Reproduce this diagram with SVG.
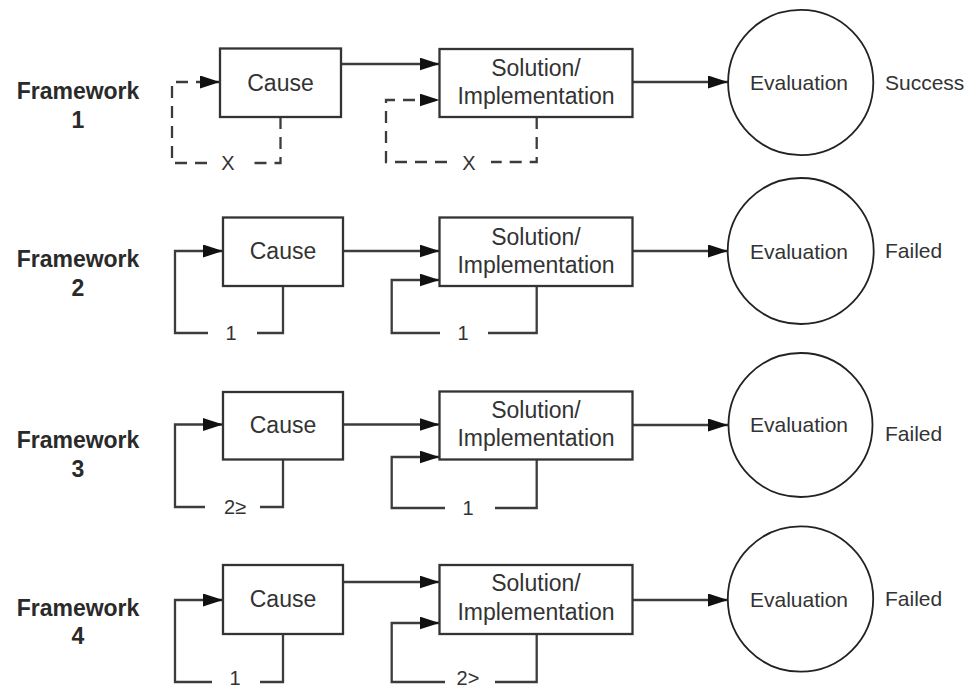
<svg xmlns="http://www.w3.org/2000/svg" width="969" height="690" viewBox="0 0 969 690">
<style>
.box{fill:#fff;stroke:#333;stroke-width:2.3}
.circ{fill:#fff;stroke:#222;stroke-width:1.8}
.ln{fill:none;stroke:#3c3c3c;stroke-width:2.3}
.arr{marker-end:url(#ah)}
.dash{stroke-dasharray:12 8}
.t{font-family:"Liberation Sans",Arial,sans-serif;fill:#333;text-anchor:middle}
.big{font-size:23px}
.mid{font-size:21px}
.sm{font-size:20px}
.fw{font-family:"Liberation Sans",Arial,sans-serif;font-weight:bold;font-size:23px;fill:#2a2a2a;text-anchor:middle}
.out{font-family:"Liberation Sans",Arial,sans-serif;font-size:21px;fill:#333}
</style>
<defs>
<marker id="ah" markerUnits="userSpaceOnUse" markerWidth="21" markerHeight="14" refX="20" refY="6.5" orient="auto">
<path d="M0,0 L20,6.5 L0,13 z" fill="#111"/>
</marker>
</defs>
<rect width="969" height="690" fill="#fff"/>

<g id="labels">
<text class="fw" x="78" y="99">Framework</text><text class="fw" x="78" y="128">1</text>
<text class="fw" x="78" y="267">Framework</text><text class="fw" x="78" y="296">2</text>
<text class="fw" x="78" y="448">Framework</text><text class="fw" x="78" y="477">3</text>
<text class="fw" x="78" y="616">Framework</text><text class="fw" x="78" y="644">4</text>
</g>

<g id="connectors">
<!-- Framework 1 -->
<path class="ln arr" d="M341,64 H439.5"/>
<path class="ln arr" d="M632.5,82 H728"/>
<path class="ln dash" d="M280.5,117 V163 H251"/>
<path class="ln dash arr" d="M207,163 H172 V82 H220"/>
<path class="ln dash" d="M536.7,117 V162 H491"/>
<path class="ln dash arr" d="M447,162 H386 V100 H439.5"/>
<text class="t sm" x="228" y="170">X</text>
<text class="t sm" x="469" y="170">X</text>
<!-- Framework 2 -->
<path class="ln arr" d="M343,251 H439.5"/>
<path class="ln arr" d="M632.5,251 H728"/>
<path class="ln" d="M283,286 V333 H257"/>
<path class="ln arr" d="M208,333 H175 V251 H223"/>
<path class="ln" d="M536.7,286 V333 H488"/>
<path class="ln arr" d="M440,333 H391.7 V280 H439.5"/>
<text class="t sm" x="231" y="340">1</text>
<text class="t sm" x="463" y="340">1</text>
<!-- Framework 3 -->
<path class="ln arr" d="M343,424.5 H439.5"/>
<path class="ln arr" d="M632.5,425 H728"/>
<path class="ln" d="M283,459 V507 H260"/>
<path class="ln arr" d="M205,507 H175 V424.5 H223"/>
<path class="ln" d="M536.7,459 V508 H495"/>
<path class="ln arr" d="M445,508 H391.7 V457 H439.5"/>
<text class="t sm" x="235" y="514">2≥</text>
<text class="t sm" x="468" y="515">1</text>
<!-- Framework 4 -->
<path class="ln arr" d="M343,582 H439.5"/>
<path class="ln arr" d="M632.5,600 H728"/>
<path class="ln" d="M283,634 V682 H260"/>
<path class="ln arr" d="M212,682 H175 V600 H223"/>
<path class="ln" d="M536.7,634 V682 H495"/>
<path class="ln arr" d="M445,682 H391.7 V623 H439.5"/>
<text class="t sm" x="235" y="685">1</text>
<text class="t sm" x="468" y="685">2&gt;</text>
</g>

<g id="cause1"><rect class="box" x="220" y="48.5" width="121" height="68.5"/><text class="t big" x="280.5" y="90.5">Cause</text></g>
<g id="solution1"><rect class="box" x="439.5" y="49" width="193" height="68"/><text class="t big" x="536" y="75.5">Solution/</text><text class="t big" x="536" y="104">Implementation</text></g>
<g id="eval1"><circle class="circ" cx="800.7" cy="82.5" r="72.6"/><text class="t mid" x="799" y="90">Evaluation</text></g>
<g id="outcome1"><text class="out" x="885" y="90">Success</text></g>

<g id="cause2"><rect class="box" x="223" y="217.5" width="120" height="68.5"/><text class="t big" x="283" y="259">Cause</text></g>
<g id="solution2"><rect class="box" x="439.5" y="217.5" width="193" height="68.5"/><text class="t big" x="536" y="244.5">Solution/</text><text class="t big" x="536" y="273">Implementation</text></g>
<g id="eval2"><circle class="circ" cx="800.7" cy="251" r="73"/><text class="t mid" x="799" y="258.5">Evaluation</text></g>
<g id="outcome2"><text class="out" x="885" y="258">Failed</text></g>

<g id="cause3"><rect class="box" x="223" y="392" width="120" height="67.5"/><text class="t big" x="283" y="433">Cause</text></g>
<g id="solution3"><rect class="box" x="439.5" y="391.5" width="193" height="68"/><text class="t big" x="536" y="417.5">Solution/</text><text class="t big" x="536" y="446">Implementation</text></g>
<g id="eval3"><circle class="circ" cx="800.5" cy="425" r="72"/><text class="t mid" x="799" y="432">Evaluation</text></g>
<g id="outcome3"><text class="out" x="885" y="441">Failed</text></g>

<g id="cause4"><rect class="box" x="223" y="565" width="120" height="69"/><text class="t big" x="283" y="607">Cause</text></g>
<g id="solution4"><rect class="box" x="439.5" y="565" width="193" height="69"/><text class="t big" x="536" y="591">Solution/</text><text class="t big" x="536" y="619.5">Implementation</text></g>
<g id="eval4"><circle class="circ" cx="800.5" cy="599" r="72.7"/><text class="t mid" x="799" y="606.5">Evaluation</text></g>
<g id="outcome4"><text class="out" x="885" y="606">Failed</text></g>
</svg>
